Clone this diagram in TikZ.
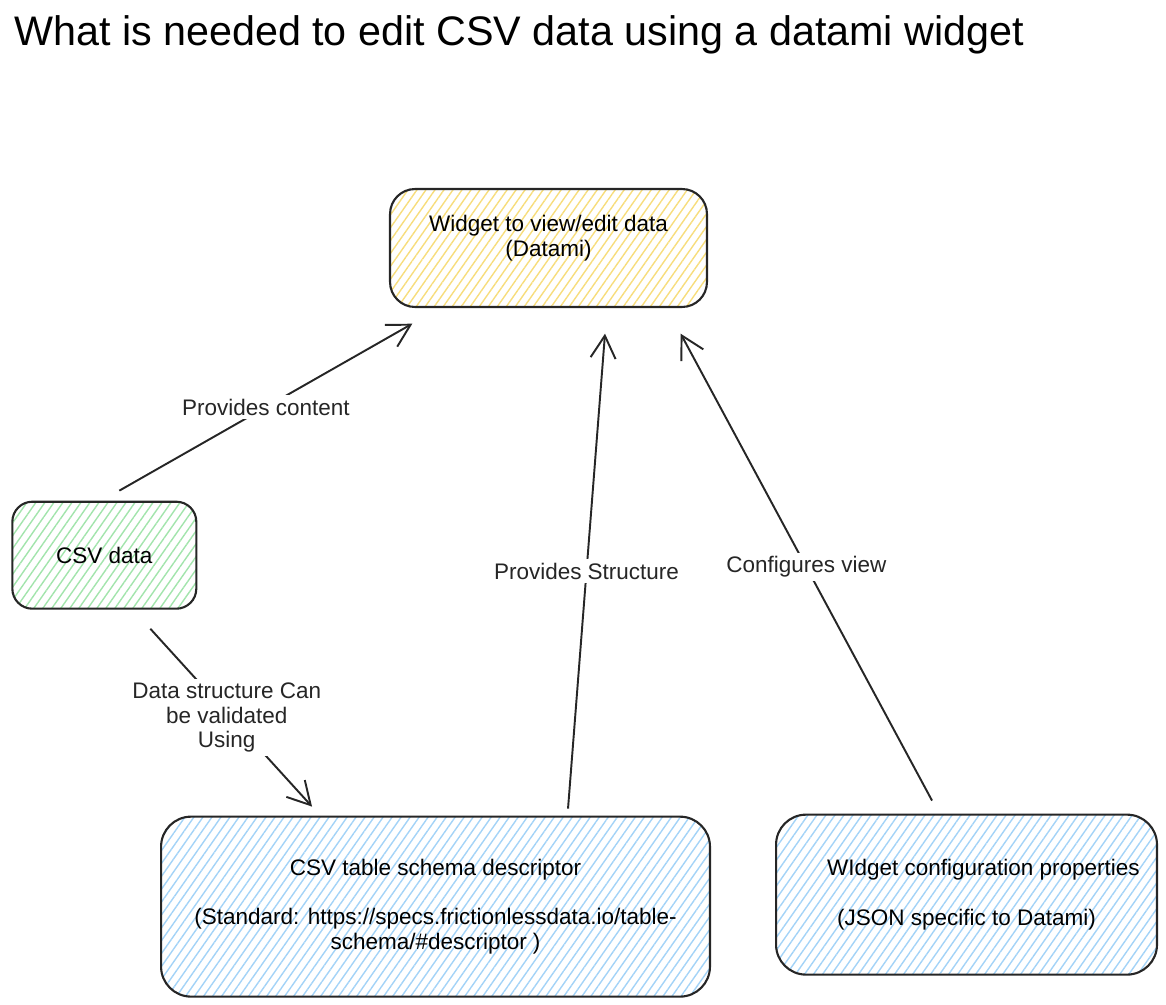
\documentclass[tikz,border=0pt]{standalone}
\usepackage{fontspec}
\setmainfont{Liberation Sans}
\usepackage{xcolor}
\usetikzlibrary{positioning, calc, arrows.meta, patterns.meta}

\definecolor{hatchyellow}{HTML}{F7DD7C}
\definecolor{hatchgreen}{HTML}{A2E4AC}
\definecolor{hatchblue}{HTML}{A3D3F7}

\begin{document}
\begin{tikzpicture}[
    x=0.02cm, y=-0.02cm,
    font=\fontsize{12.8}{14}\selectfont,
    sketchbox/.style={rectangle, rounded corners=0.5cm, draw=black!85, line width=1.2pt, align=center,
        pattern={Lines[angle=55, distance=4.2pt, line width=0.8pt]}, pattern color=#1},
    arrow/.style={-{Straight Barb[length=4.5mm, width=5mm, line width=1.1pt]}, line width=1.1pt, black!85},
    edgelbl/.style={fill=white, inner sep=2pt, align=center}
]
\useasboundingbox (0,0) rectangle (1166,1004);

\node[anchor=west, font=\fontsize{23.5}{26}\selectfont] (title) at (8,35) {What is needed to edit CSV data using a datami widget};

\node[sketchbox=hatchyellow, minimum width=6.34cm, minimum height=2.36cm] (widget) at (548.5,248) {Widget to view/edit data\\(Datami)\\\mbox{}};
\node[sketchbox=hatchgreen, minimum width=3.68cm, minimum height=2.14cm, rounded corners=0.4cm, below left=3.86cm and 3.84cm of widget] (csv) {CSV data};
\node[sketchbox=hatchblue, minimum width=10.98cm, minimum height=3.6cm, rounded corners=0.6cm, below=10.16cm of widget, xshift=-2.26cm] (schema) {CSV table schema descriptor\\[14pt](Standard: https://specs.frictionlessdata.io/table-\\schema/\#descriptor )};
\node[sketchbox=hatchblue, minimum width=7.62cm, minimum height=3.2cm, rounded corners=0.6cm, right=1.28cm of schema, yshift=0.24cm] (config) {\hspace*{1.5em}WIdget configuration properties\\[14pt](JSON specific to Datami)};

\draw[arrow] ($(csv.north)+(15,-10)$) -- node[edgelbl, pos=0.5] (lblcontent) {Provides content} ($(widget.south west)+(23,16)$);
\draw[arrow] ($(schema.north)+(132.5,-7)$) -- node[edgelbl, pos=0.5] (lblstructure) {Provides Structure} ($(widget.south)+(56.5,26)$);
\draw[arrow] ($(config.north)+(-34.5,-13)$) -- node[edgelbl, pos=0.5] (lblconfig) {Configures view} ($(widget.south east)+(-27,26)$);
\draw[arrow] ($(csv.south)+(46,19)$) -- node[edgelbl, pos=0.5, xshift=-0.09cm] (lblvalidate) {Data structure Can\\be validated\\Using} ($(schema.north west)+(152,-9)$);

\end{tikzpicture}
\end{document}
